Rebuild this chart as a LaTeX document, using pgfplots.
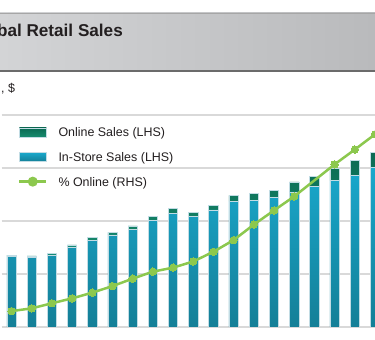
\documentclass[border=0pt]{standalone}
\usepackage{fontspec}
\setmainfont{Liberation Sans}
\usepackage{pgfplots}
\pgfplotsset{compat=1.18}
\usepackage{pgfplotstable}
\definecolor{instoreT}{HTML}{19A8CC}
\definecolor{instoreB}{HTML}{147F97}
\definecolor{onlineT}{HTML}{0B6A53}
\definecolor{onlineB}{HTML}{178B6E}
\definecolor{barEdge}{HTML}{C2DCE4}
\definecolor{lineG}{HTML}{8CC84E}
\definecolor{gridG}{HTML}{D9D9D9}
\definecolor{bandL}{HTML}{D3D4D6}
\definecolor{bandR}{HTML}{B9BABC}
\definecolor{txt}{HTML}{231F20}

\pgfplotstableread{
i instore online
1 6.65 0.14
2 6.56 0.14
3 6.80 0.15
4 7.55 0.19
5 8.20 0.22
6 8.68 0.25
7 9.22 0.31
8 10.03 0.38
9 10.73 0.47
10 10.47 0.35
11 11.04 0.44
12 11.87 0.55
13 11.91 0.73
14 12.21 0.71
15 12.74 0.94
16 13.24 0.99
17 13.80 1.17
18 14.33 1.42
19 15.04 1.42
}\sales

\pgfplotstableread{
i pct
1 0.75
2 0.88
3 1.12
4 1.35
5 1.62
6 1.93
7 2.28
8 2.61
9 2.80
10 3.09
11 3.55
12 4.10
13 4.83
14 5.50
15 6.16
17 7.67
18 8.37
19 9.09
}\share

\begin{document}
\begin{tikzpicture}
\useasboundingbox (0,0) rectangle (375bp,340bp);
\clip (0,0) rectangle (375bp,340bp);
\fill[white] (0,0) rectangle (375bp,340bp);
% header band
\shade[left color=bandL, right color=bandR] (0,270bp) rectangle (375bp,327bp);
\draw[black!35, line width=0.6bp] (0,326.7bp) -- (375bp,326.7bp);
\draw[black!58, line width=2bp] (0,269bp) -- (375bp,269bp);
\node[anchor=base east, font=\fontsize{17.2}{20}\bfseries, text=txt, inner sep=0] at (123bp,303.3bp) {Global Retail Sales};
\node[anchor=base west, font=\fontsize{12.5}{15}\selectfont, text=txt, inner sep=0] at (1bp,247bp) {, \$};
% horizontal grid lines
\foreach \g in {0,1,2,3,4} {
  \draw[gridG, line width=1.5bp] (1.5bp,{13bp+\g*53bp}) -- (375bp,{13bp+\g*53bp});
}

\begin{axis}[
  at={(0,13bp)}, anchor=south west,
  scale only axis, width=375bp, height=212bp,
  xmin=0.4307, xmax=19, ymin=0, ymax=20,
  hide axis,
  ybar stacked, bar width=9.3bp,
]
\addplot[top color=instoreT, bottom color=instoreB, draw=barEdge, line width=0.6bp] table[x=i, y=instore] {\sales};
\addplot[top color=onlineT, bottom color=onlineB, draw=barEdge, line width=0.6bp] table[x=i, y=online] {\sales};
\end{axis}

\begin{axis}[
  at={(0,13bp)}, anchor=south west,
  scale only axis, width=375bp, height=212bp,
  xmin=0.4307, xmax=19, ymin=0, ymax=10,
  hide axis,
  legend style={at={(0.048,0.9401)}, anchor=north west, draw=none, fill=none,
    inner sep=0pt, outer sep=0pt,
    font=\fontsize{12.5}{15}\selectfont, text=txt,
    row sep=12.5bp, column sep=11bp,
    nodes={inner sep=0pt, text height=9bp, text depth=3bp},
    cells={anchor=base west}},
]
\addlegendimage{legend image code/.code={\draw[top color=onlineT, bottom color=onlineB, draw=barEdge, line width=0.6bp] (0bp,-0.3bp) rectangle (27bp,8.7bp);}}
\addlegendentry{Online Sales (LHS)}
\addlegendimage{legend image code/.code={\draw[top color=instoreT, bottom color=instoreB, draw=barEdge, line width=0.6bp] (0bp,-0.3bp) rectangle (27bp,8.7bp);}}
\addlegendentry{In-Store Sales (LHS)}
\addplot[lineG, line width=2.5bp, mark=*, mark size=3.7bp, mark options={fill=lineG, draw=lineG, line width=0pt},
  legend image code/.code={\draw[lineG, line width=2.5bp] (0bp,5.3bp) -- (27bp,5.3bp); \fill[lineG] (13.5bp,5.3bp) circle (3.7bp);}]
  table[x=i, y=pct] {\share};
\addlegendentry{\% Online (RHS)}
\end{axis}
\end{tikzpicture}
\end{document}
